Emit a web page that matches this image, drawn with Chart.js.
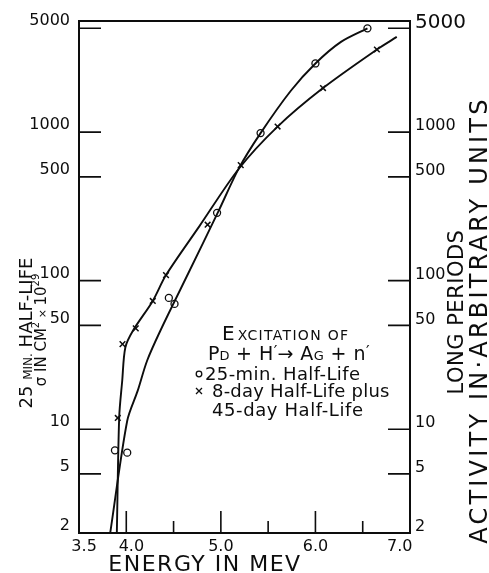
<!DOCTYPE html>
<html>
<head>
<meta charset="utf-8">
<script src="https://cdn.jsdelivr.net/npm/chart.js"></script>
<style>
  body { margin: 0; background: #fff; }
  canvas { display: block; }
</style>
</head>
<body>
<canvas id="excitation" width="489" height="573"></canvas>
<script>
// axis ticks
const energyTicks = [3.5, 4.0, 4.5, 5.0, 5.5, 6.0, 6.5, 7.0];
const labeledEnergies = [3.5, 4.0, 5.0, 6.0, 7.0];
const yTicks = [2, 5, 10, 50, 100, 500, 1000, 5000];

// measured points, 25 min half-life (circles)
const halfLife25E = [3.88, 4.01, 4.45, 4.51, 4.96, 5.42, 6.00, 6.55];
const halfLife25V = [7.2, 6.95, 76.5, 69.7, 286, 985, 2900, 5000];

// measured points, 8-day + 45-day half-life (crosses)
const halfLife8E = [3.91, 3.96, 4.10, 4.28, 4.42, 4.86, 5.21, 5.60, 6.08, 6.65];
const halfLife8V = [11.9, 37.4, 47.7, 73, 109, 238, 600, 1090, 1980, 3600];

// hand drawn curves
const curve25E = [3.83, 4.01, 4.12, 4.22, 4.36, 4.67, 4.97, 5.19, 5.42, 5.74, 6.00, 6.27, 6.55];
const curve25V = [2, 11.4, 18.1, 28.9, 46, 117, 289, 570, 985, 1900, 2900, 4050, 5000];
const curve8E = [3.90, 3.925, 3.957, 3.99, 4.07, 4.28, 4.42, 4.77, 5.19, 5.60, 6.08, 6.65, 6.86];
const curve8V = [2, 12.0, 21.2, 35.5, 46, 73, 109, 231, 567, 1090, 1980, 3600, 4375];

const ink = '#0d0d0d';
const FONT = '"DejaVu Sans"';

function toPoints(xs, ys) {
  return xs.map((x, i) => ({ x: x, y: ys[i] }));
}

// draw a row of text pieces with different sizes (small caps, superscripts)
function runsWidth(ctx, runs) {
  let w = 0;
  runs.forEach(r => {
    ctx.font = r[1] + 'px ' + FONT;
    ctx.letterSpacing = (r[3] || 0) + 'px';
    w += ctx.measureText(r[0]).width;
  });
  return w;
}
function drawRuns(ctx, runs, x, y) {
  runs.forEach(r => {
    ctx.font = r[1] + 'px ' + FONT;
    ctx.letterSpacing = (r[3] || 0) + 'px';
    ctx.fillText(r[0], x, y - (r[2] || 0));
    x += ctx.measureText(r[0]).width;
  });
  ctx.letterSpacing = '0px';
}
function drawRotated(ctx, runs, cx, baseX) {
  ctx.save();
  ctx.translate(baseX, cx);
  ctx.rotate(-Math.PI / 2);
  const w = runsWidth(ctx, runs);
  drawRuns(ctx, runs, -w / 2, 0);
  ctx.restore();
}

const frameTicks = {
  id: 'frameTicks',
  beforeDatasetsDraw(chart) {
    const { ctx, chartArea: a, scales } = chart;
    ctx.save();
    ctx.strokeStyle = ink;
    ctx.lineWidth = 2;
    ctx.beginPath();
    ctx.moveTo(a.left - 1, a.top);
    ctx.lineTo(a.right + 1, a.top);
    ctx.stroke();

    ctx.lineWidth = 1.6;
    ctx.beginPath();
    yTicks.forEach(v => {
      const y = scales.y.getPixelForValue(v);
      if (y > a.top + 1 && y < a.bottom - 1) {
        ctx.moveTo(a.left, y);
        ctx.lineTo(a.left + 22, y);
      }
      const y2 = scales.y2.getPixelForValue(v);
      if (y2 > a.top + 1 && y2 < a.bottom - 1) {
        ctx.moveTo(a.right - 22, y2);
        ctx.lineTo(a.right, y2);
      }
    });
    energyTicks.forEach(v => {
      const x = scales.x.getPixelForValue(v);
      if (x <= a.left + 1 || x >= a.right - 1) return;
      const len = Number.isInteger(v) ? 22 : 12;
      ctx.moveTo(x, a.bottom);
      ctx.lineTo(x, a.bottom - len);
    });
    ctx.stroke();
    ctx.restore();
  }
};

const titles = {
  id: 'titles',
  afterDraw(chart) {
    const ctx = chart.ctx;
    ctx.save();
    ctx.fillStyle = ink;
    ctx.strokeStyle = ink;
    ctx.textBaseline = 'alphabetic';
    ctx.textAlign = 'left';

    // left axis title
    drawRotated(ctx, [['25 ', 18], ['MIN.', 12], [' HALF-LIFE', 18]], 333, 32);
    drawRotated(ctx, [['\u03c3 IN CM', 15], ['2', 10, 7], [' \u00d7 ', 11], ['10', 15], ['29', 10, 7]], 330, 46);

    // right axis title
    drawRotated(ctx, [['LONG PERIODS', 21, 0, 0.5]], 312, 463);
    drawRotated(ctx, [['ACTIVITY IN\u00b7ARBITRARY UNITS', 24, 0, 3.2]], 320, 487);

    // x axis title
    ctx.save();
    ctx.font = '22px ' + FONT;
    ctx.letterSpacing = '1.5px';
    ctx.textAlign = 'center';
    ctx.fillText('ENERGY IN MEV', 205, 571);
    ctx.restore();

    // key
    drawRuns(ctx, [['E', 20, 0, 3], ['XCITATION OF', 14, 0, 1.3]], 222, 340);
    drawRuns(ctx, [['P', 19], ['D', 13], [' + H', 19, 0, 0.5], ['\u2032', 16, 3], ['\u2192 A', 19, 0, 0.5], ['G', 13], [' + n', 19, 0, 0.5], ['\u2032', 16, 3]], 208, 360);
    drawRuns(ctx, [['25-min. Half-Life', 18, 0, 0.4]], 205, 380);
    drawRuns(ctx, [['8-day Half-Life plus', 18, 0, 0.2]], 212, 397);
    drawRuns(ctx, [['45-day Half-Life', 18, 0, 0.6]], 212, 416);

    ctx.lineWidth = 1.3;
    ctx.beginPath();
    ctx.arc(199, 374, 2.8, 0, Math.PI * 2);
    ctx.stroke();
    ctx.beginPath();
    ctx.moveTo(196, 388); ctx.lineTo(202, 394);
    ctx.moveTo(202, 388); ctx.lineTo(196, 394);
    ctx.stroke();
    ctx.restore();
  }
};

const xLabel = v => {
  if (!labeledEnergies.includes(v)) return '';
  const s = v.toFixed(1);
  if (v === 3.5 || v === 4.0) return '\u2007' + s;
  if (v === 7.0) return s + '\u2007\u2007';
  return s;
};

new Chart('excitation', {
  type: 'scatter',
  data: {
    datasets: [{
      data: toPoints(curve25E, curve25V),
      showLine: true,
      tension: 0.3,
      borderColor: ink,
      borderWidth: 1.9,
      pointRadius: 0,
      yAxisID: 'y'
    }, {
      data: toPoints(curve8E, curve8V),
      showLine: true,
      tension: 0.3,
      borderColor: ink,
      borderWidth: 1.9,
      pointRadius: 0,
      yAxisID: 'y'
    }, {
      data: toPoints(halfLife25E, halfLife25V),
      pointStyle: 'circle',
      pointRadius: 3.5,
      borderWidth: 1.3,
      borderColor: ink,
      backgroundColor: 'rgba(0,0,0,0)',
      yAxisID: 'y'
    }, {
      data: toPoints(halfLife8E, halfLife8V),
      pointStyle: 'crossRot',
      pointRadius: 4,
      borderWidth: 1.5,
      borderColor: ink,
      yAxisID: 'y'
    }]
  },
  options: {
    responsive: false,
    animation: false,
    layout: { padding: { top: 21 } },
    plugins: {
      legend: { display: false },
      tooltip: { enabled: false }
    },
    scales: {
      x: {
        type: 'linear',
        min: 3.5,
        max: 7.0,
        afterBuildTicks: s => { s.ticks = energyTicks.map(v => ({ value: v })); },
        afterFit: s => { s.height = 40; },
        grid: { display: false, drawTicks: false },
        border: { display: true, color: ink, width: 2 },
        ticks: {
          autoSkip: false,
          maxRotation: 0,
          padding: 4,
          color: ink,
          font: { family: 'DejaVu Sans', size: 16 },
          callback: xLabel
        }
      },
      y: {
        type: 'logarithmic',
        position: 'left',
        min: 2,
        max: 5600,
        afterBuildTicks: s => { s.ticks = yTicks.map(v => ({ value: v })); },
        afterFit: s => { s.width = 79; },
        grid: { display: false, drawTicks: false },
        border: { display: true, color: ink, width: 2 },
        ticks: {
          autoSkip: false,
          padding: 9,
          labelOffset: -7,
          color: ink,
          font: { family: 'DejaVu Sans', size: 16 },
          callback: v => String(v)
        }
      },
      y2: {
        type: 'logarithmic',
        position: 'right',
        min: 2,
        max: 5600,
        afterBuildTicks: s => { s.ticks = yTicks.map(v => ({ value: v })); },
        afterFit: s => { s.width = 79; },
        grid: { display: false, drawTicks: false },
        border: { display: true, color: ink, width: 2 },
        ticks: {
          autoSkip: false,
          padding: 5,
          labelOffset: -6,
          color: ink,
          font: c => ({ family: 'DejaVu Sans', size: c.tick && c.tick.value === 5000 ? 20 : 16 }),
          callback: v => String(v)
        }
      }
    }
  },
  plugins: [frameTicks, titles]
});
</script>
</body>
</html>
